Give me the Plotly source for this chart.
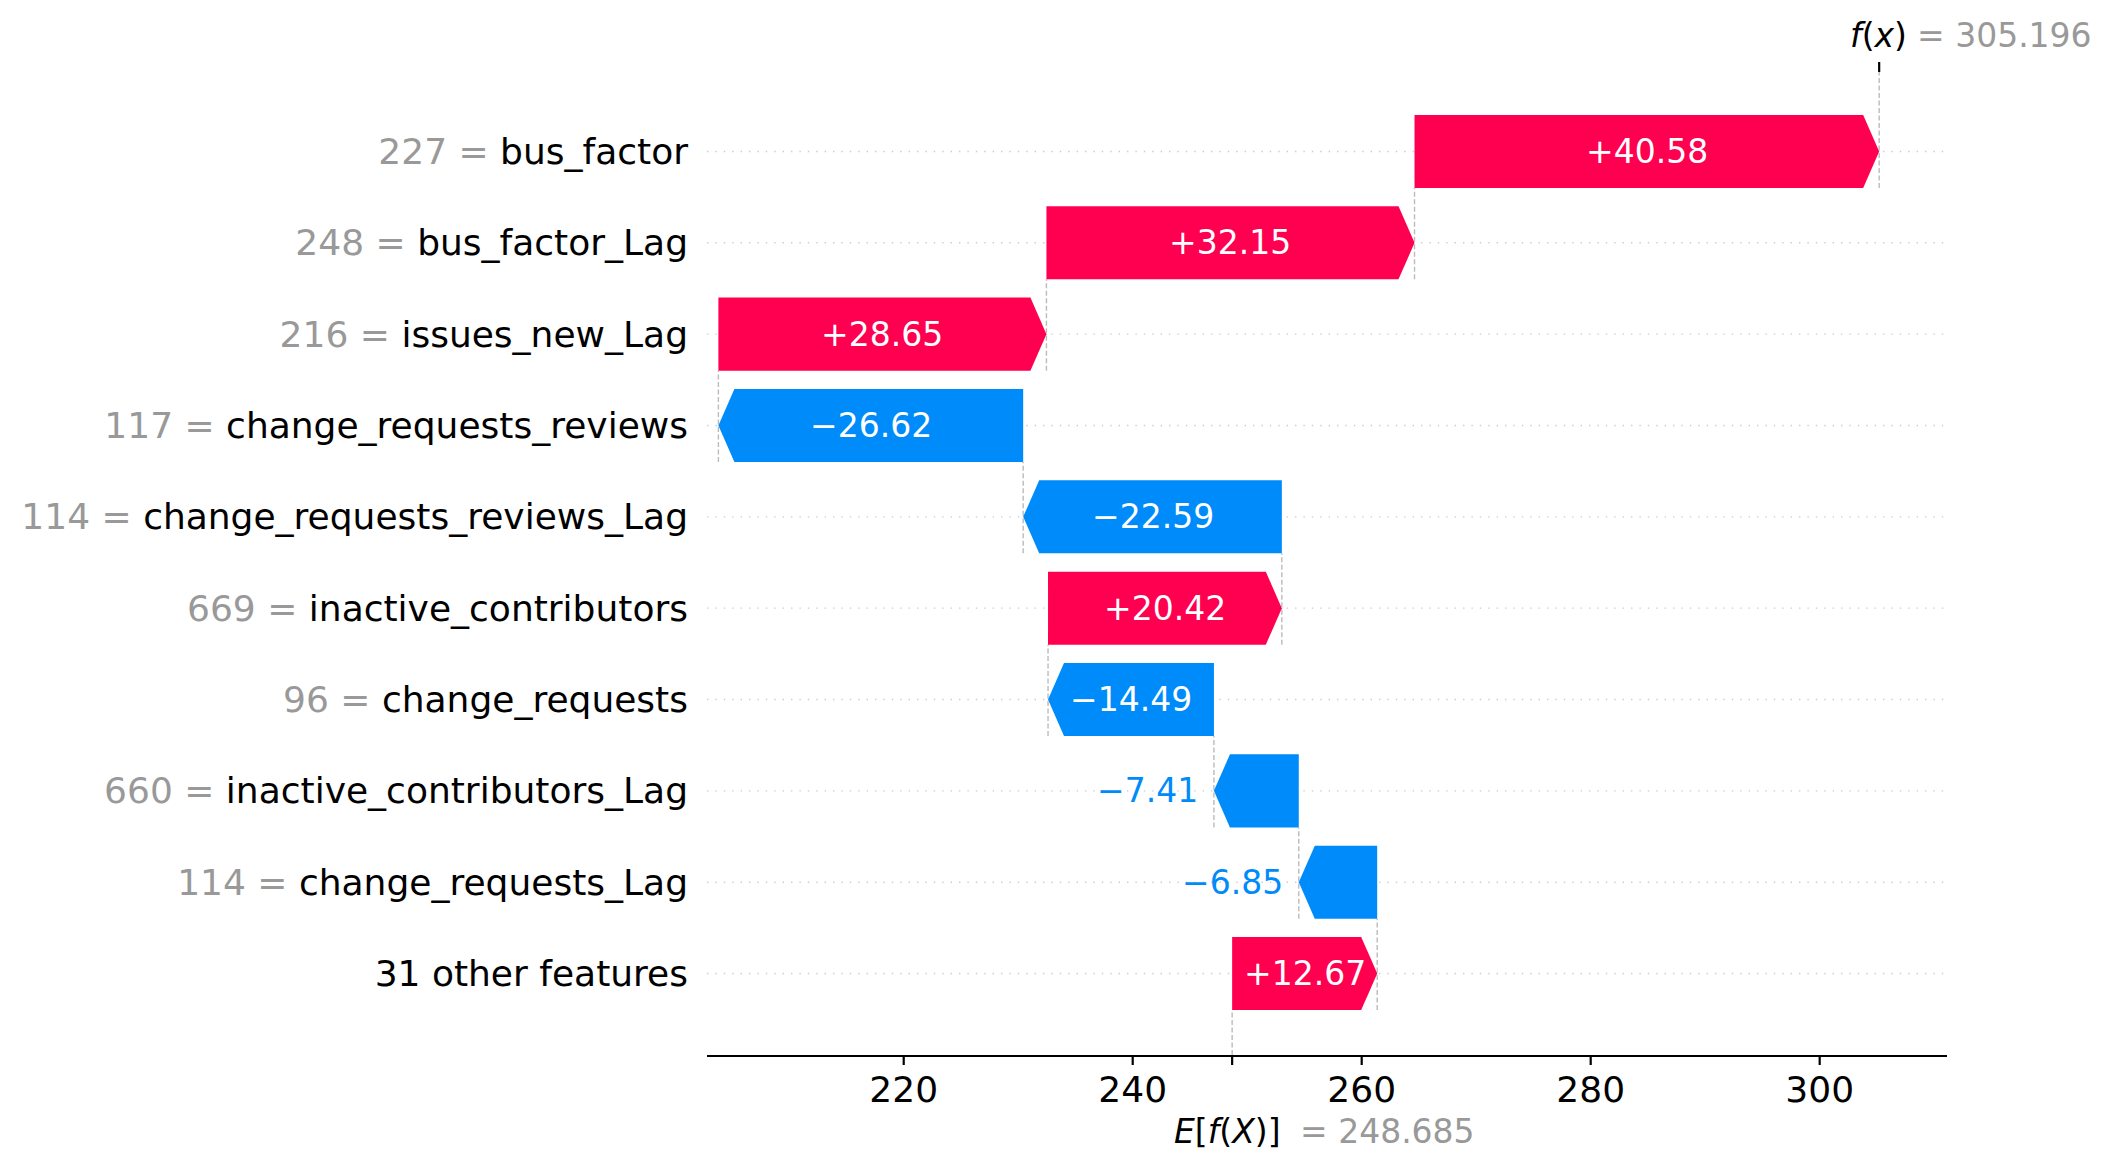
import plotly.graph_objects as go

# ---------------- data ----------------
feature_names = ["bus_factor", "bus_factor_Lag", "issues_new_Lag", "change_requests_reviews",
                 "change_requests_reviews_Lag", "inactive_contributors", "change_requests",
                 "inactive_contributors_Lag", "change_requests_Lag", "31 other features"]
feature_values = ["227", "248", "216", "117", "114", "669", "96", "660", "114", None]
shap_values = [40.58, 32.15, 28.65, -26.62, -22.59, 20.42, -14.49, -7.41, -6.85, 12.67]
base_value = 248.685
fx_value = 305.196
x_tick_vals = [220, 240, 260, 280, 300]
x_tick_text = ["220", "240", "260", "280", "300"]

# ---------------- style ----------------
RED = "#ff0051"
BLUE = "#008bfb"
GRAY = "#999999"
FONT = "DejaVu Sans"
# page body has an 8px margin; compensate so the plot lands where the reference has it
W, H = 2100, 1159
ML, MR, MT, MB = 699, 161, 64, 112
X_RANGE = [202.82, 311.12]
n = len(shap_values)
Y_RANGE = [-0.892, n - 1 + 0.87]
BAR_H = 0.8
HEAD_PX = 16
plot_w = W - ML - MR
hl = HEAD_PX * (X_RANGE[1] - X_RANGE[0]) / plot_w

# rows: index 0 is top row
rows = [n - 1 - i for i in range(n)]
starts = [0.0] * n
ends = [0.0] * n
cur = base_value
for i in reversed(range(n)):
    starts[i] = cur
    ends[i] = cur + shap_values[i]
    cur = ends[i]

fig = go.Figure()
shapes = []
annotations = []

# horizontal dotted row lines
for y in rows:
    shapes.append(dict(type="line", xref="paper", yref="y", x0=0, x1=1, y0=y, y1=y,
                       line=dict(color="#cccccc", width=1.4, dash="1.4px,7px"), layer="below"))

# vertical dashed connector lines
for i in range(n):
    y = rows[i]
    if i == 0:
        shapes.append(dict(type="line", xref="x", yref="y", x0=fx_value, x1=fx_value,
                           y0=y - BAR_H / 2, y1=Y_RANGE[1],
                           line=dict(color="#bbbbbb", width=1.4, dash="5px,2.5px"), layer="below"))
    else:
        shapes.append(dict(type="line", xref="x", yref="y", x0=ends[i], x1=ends[i],
                           y0=y - BAR_H / 2, y1=y + 1 - BAR_H / 2,
                           line=dict(color="#bbbbbb", width=1.4, dash="5px,2.5px"), layer="below"))
# base value line
shapes.append(dict(type="line", xref="x", yref="y", x0=base_value, x1=base_value,
                   y0=Y_RANGE[0], y1=rows[-1] - BAR_H / 2,
                   line=dict(color="#bbbbbb", width=1.4, dash="5px,2.5px"), layer="below"))

# f(x) tick on top
shapes.append(dict(type="line", xref="x", yref="paper", x0=fx_value, x1=fx_value,
                   ysizemode="pixel", yanchor=1, y0=0, y1=10,
                   line=dict(color="black", width=2.2)))
# bottom tick marks (ticks drawn as shapes so labels can sit closer to the axis)
for tv in x_tick_vals + [base_value]:
    shapes.append(dict(type="line", xref="x", yref="paper", x0=tv, x1=tv,
                       ysizemode="pixel", yanchor=0, y0=0, y1=-10,
                       line=dict(color="black", width=2.2)))

# arrows
for i in range(n):
    v = shap_values[i]
    s, e = starts[i], ends[i]
    y = rows[i]
    h = min(abs(v), hl)
    top, bot = y + BAR_H / 2, y - BAR_H / 2
    if v > 0:
        xs = [s, e - h, e, e - h, s, s]
        color = RED
    else:
        xs = [s, e + h, e, e + h, s, s]
        color = BLUE
    ys = [bot, bot, y, top, top, bot]
    fig.add_trace(go.Scatter(x=xs, y=ys, mode="lines", fill="toself", fillcolor=color,
                             line=dict(width=0, color=color), hoverinfo="skip", showlegend=False))
    label = ("+" if v > 0 else "\u2212") + f"{abs(v):.2f}"
    if abs(v) >= 10:
        annotations.append(dict(x=(s + e) / 2, y=y, xref="x", yref="y", text=label, showarrow=False,
                                font=dict(family=FONT, size=33, color="white"),
                                xanchor="center", yanchor="middle"))
    else:
        if v < 0:
            annotations.append(dict(x=e, y=y, xref="x", yref="y", text=label, showarrow=False,
                                    font=dict(family=FONT, size=33, color=BLUE),
                                    xanchor="right", yanchor="middle", xshift=-14))
        else:
            annotations.append(dict(x=e, y=y, xref="x", yref="y", text=label, showarrow=False,
                                    font=dict(family=FONT, size=33, color=RED),
                                    xanchor="left", yanchor="middle", xshift=14))

# f(x) and E[f(X)] labels
annotations.append(dict(x=fx_value, y=1, xref="x", yref="paper", text="<i>f</i>(<i>x</i>)",
                        showarrow=False, font=dict(family=FONT, size=33, color="black"),
                        xanchor="right", yanchor="middle", xshift=30, yshift=37))
annotations.append(dict(x=fx_value, y=1, xref="x", yref="paper", text=f"= {fx_value:.3f}",
                        showarrow=False, font=dict(family=FONT, size=33, color=GRAY),
                        xanchor="left", yanchor="middle", xshift=36, yshift=37))
annotations.append(dict(x=base_value, y=0, xref="x", yref="paper", text="<i>E</i>[<i>f</i>(<i>X</i>)]",
                        showarrow=False, font=dict(family=FONT, size=33, color="black"),
                        xanchor="right", yanchor="middle", xshift=51, yshift=-76))
annotations.append(dict(x=base_value, y=0, xref="x", yref="paper", text=f"= {base_value:.3f}",
                        showarrow=False, font=dict(family=FONT, size=33, color=GRAY),
                        xanchor="left", yanchor="middle", xshift=66, yshift=-76))

# y tick labels
ytext = []
for name, val in zip(feature_names, feature_values):
    if val is None:
        ytext.append(name)
    else:
        ytext.append(f'<span style="color:{GRAY}">{val} = </span>{name}')

fig.update_layout(
    width=W, height=H,
    margin=dict(l=ML, r=MR, t=MT, b=MB, pad=0),
    plot_bgcolor="white", paper_bgcolor="white",
    shapes=shapes, annotations=annotations,
    font=dict(family=FONT, color="black"),
    xaxis=dict(range=X_RANGE, tickvals=x_tick_vals, ticktext=x_tick_text,
               ticks="outside", ticklen=2, tickwidth=0.01, tickcolor="rgba(0,0,0,0)",
               showline=True, linecolor="black", linewidth=2.2,
               showgrid=False, zeroline=False, tickfont=dict(family=FONT, size=36, color="black")),
    yaxis=dict(range=Y_RANGE, tickvals=rows, ticktext=ytext, showgrid=False, zeroline=False,
               showline=False, ticks="", ticklabelstandoff=18,
               tickfont=dict(family=FONT, size=36, color="black")),
)

fig.write_html("out.html")
